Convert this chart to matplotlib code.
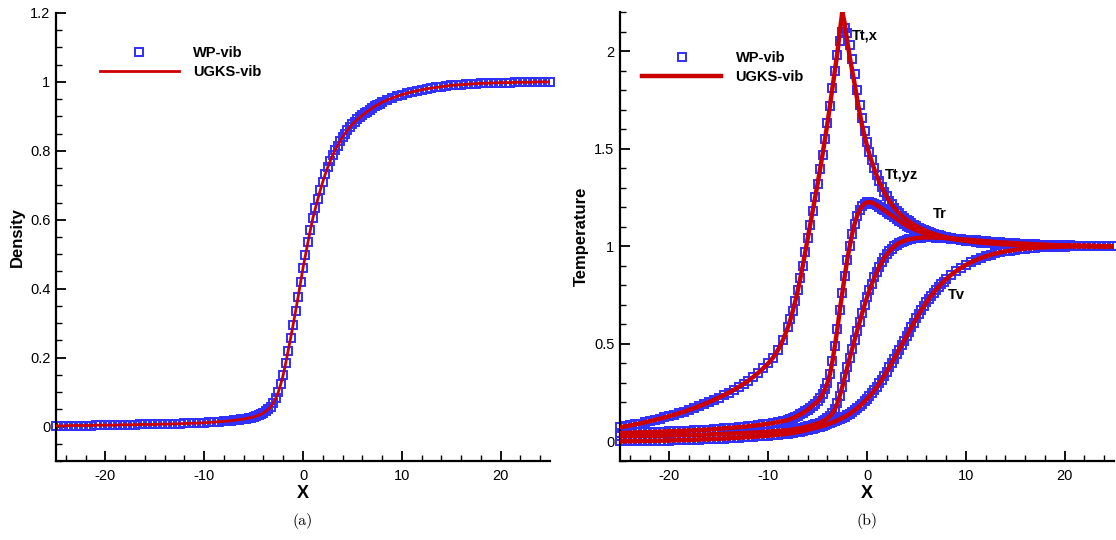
import numpy as np
import matplotlib
matplotlib.use('Agg')
import matplotlib.pyplot as plt
from matplotlib.ticker import MultipleLocator, FuncFormatter

plt.rcParams['font.family'] = ['Liberation Sans', 'DejaVu Sans']
plt.rcParams['axes.unicode_minus'] = False

# ---------------- mesh (x positions of the samples) ----------------
x_up = np.linspace(-25, -8.5, 34)    # step 0.5
x_mid = np.linspace(-8, 8, 65)       # step 0.25
x_dn = np.linspace(8.5, 25, 34)      # step 0.5

# ---------------- (a) density ----------------
rho_up = [0.002, 0.002, 0.002, 0.003, 0.003, 0.003, 0.003, 0.003,
          0.004, 0.004, 0.004, 0.004, 0.004, 0.005, 0.005, 0.005,
          0.005, 0.006, 0.006, 0.006, 0.006, 0.007, 0.007, 0.007,
          0.008, 0.008, 0.009, 0.009, 0.010, 0.010, 0.011, 0.012,
          0.013, 0.014]
rho_mid = [0.015, 0.016, 0.016, 0.017, 0.018, 0.019, 0.020, 0.021,   # -8 .. -6.25
           0.022, 0.023, 0.025, 0.026, 0.028, 0.030, 0.033, 0.036,   # -6 .. -4.25
           0.040, 0.045, 0.050, 0.058, 0.068, 0.082, 0.100, 0.123,   # -4 .. -2.25
           0.150, 0.184, 0.220, 0.257, 0.295, 0.335, 0.375, 0.418,   # -2 .. -0.25
           0.460, 0.498, 0.535, 0.571, 0.605, 0.633, 0.660, 0.686,   # 0 .. 1.75
           0.710, 0.732, 0.752, 0.770, 0.787, 0.802, 0.815, 0.828,   # 2 .. 3.75
           0.840, 0.850, 0.860, 0.869, 0.877, 0.884, 0.891, 0.897,   # 4 .. 5.75
           0.903, 0.909, 0.914, 0.919, 0.924, 0.929, 0.933, 0.937,   # 6 .. 7.75
           0.941]
rho_dn = [0.947, 0.953, 0.958, 0.963, 0.967, 0.971, 0.974, 0.977,
          0.980, 0.982, 0.984, 0.986, 0.988, 0.990, 0.991, 0.992,
          0.993, 0.994, 0.995, 0.996, 0.996, 0.997, 0.997, 0.998,
          0.998, 0.998, 0.999, 0.999, 0.999, 0.999, 1.000, 1.000,
          1.000, 1.000]

# ---------------- (b) temperatures ----------------
ttx_up = [0.072, 0.077, 0.082, 0.087, 0.092, 0.098, 0.104, 0.110,
          0.116, 0.123, 0.130, 0.137, 0.145, 0.153, 0.162, 0.171,
          0.181, 0.191, 0.202, 0.213, 0.225, 0.237, 0.250, 0.264,
          0.279, 0.295, 0.312, 0.331, 0.352, 0.375, 0.400, 0.430,
          0.470, 0.520]
ttx_mid_ugks = [0.585, 0.625, 0.670, 0.720, 0.775, 0.835, 0.900, 0.970,   # -8 .. -6.25
                1.040, 1.110, 1.180, 1.250, 1.320, 1.395, 1.470, 1.550,   # -6 .. -4.25
                1.630, 1.720, 1.810, 1.900, 1.990, 2.100, 2.200, 2.140,   # -4 .. -2.25
                2.050, 1.970, 1.900, 1.830, 1.755, 1.685, 1.620, 1.565,   # -2 .. -0.25
                1.515, 1.470, 1.430, 1.393, 1.360, 1.330, 1.302, 1.277,   # 0 .. 1.75
                1.254, 1.233, 1.214, 1.197, 1.182, 1.169, 1.157, 1.146,   # 2 .. 3.75
                1.136, 1.127, 1.118, 1.110, 1.103, 1.096, 1.090, 1.084,   # 4 .. 5.75
                1.078, 1.073, 1.068, 1.064, 1.060, 1.056, 1.052, 1.049,   # 6 .. 7.75
                1.046]
ttx_mid_wp = [0.585, 0.625, 0.670, 0.720, 0.775, 0.835, 0.900, 0.970,
              1.040, 1.110, 1.180, 1.250, 1.320, 1.395, 1.470, 1.550,
              1.630, 1.720, 1.810, 1.900, 1.980, 2.050, 2.100, 2.120,
              2.090, 2.030, 1.960, 1.880, 1.800, 1.725, 1.655, 1.590,
              1.535, 1.485, 1.440, 1.400, 1.365, 1.334, 1.306, 1.280,
              1.257, 1.233, 1.214, 1.197, 1.182, 1.169, 1.157, 1.146,
              1.136, 1.127, 1.118, 1.110, 1.103, 1.096, 1.090, 1.084,
              1.078, 1.073, 1.068, 1.064, 1.060, 1.056, 1.052, 1.049,
              1.046]
ttx_dn = [1.041, 1.036, 1.032, 1.028, 1.025, 1.022, 1.019, 1.017,
          1.015, 1.013, 1.011, 1.010, 1.009, 1.008, 1.007, 1.006,
          1.005, 1.005, 1.004, 1.004, 1.003, 1.003, 1.003, 1.002,
          1.002, 1.002, 1.001, 1.001, 1.001, 1.001, 1.000, 1.000,
          1.000, 1.000]

ttyz_up = [0.043, 0.044, 0.045, 0.046, 0.047, 0.047, 0.048, 0.049,
           0.050, 0.051, 0.052, 0.053, 0.054, 0.055, 0.056, 0.057,
           0.058, 0.060, 0.061, 0.063, 0.065, 0.067, 0.069, 0.071,
           0.073, 0.075, 0.078, 0.081, 0.084, 0.087, 0.090, 0.095,
           0.100, 0.105]
ttyz_mid = [0.110, 0.115, 0.120, 0.126, 0.132, 0.139, 0.146, 0.154,
            0.163, 0.173, 0.184, 0.194, 0.205, 0.222, 0.242, 0.268,
            0.300, 0.345, 0.410, 0.490, 0.575, 0.675, 0.760, 0.850,
            0.930, 1.000, 1.065, 1.115, 1.155, 1.185, 1.205, 1.218,
            1.225, 1.226, 1.223, 1.217, 1.210, 1.202, 1.193, 1.184,
            1.175, 1.166, 1.158, 1.149, 1.140, 1.131, 1.122, 1.114,
            1.106, 1.099, 1.093, 1.087, 1.082, 1.077, 1.073, 1.069,
            1.065, 1.061, 1.058, 1.055, 1.052, 1.049, 1.047, 1.045,
            1.043]
ttyz_dn = [1.039, 1.035, 1.032, 1.029, 1.026, 1.023, 1.020, 1.018,
           1.016, 1.015, 1.013, 1.012, 1.011, 1.010, 1.009, 1.008,
           1.007, 1.006, 1.006, 1.005, 1.004, 1.004, 1.003, 1.003,
           1.002, 1.002, 1.002, 1.001, 1.001, 1.001, 1.000, 1.000,
           1.000, 1.000]

tr_up = [0.026, 0.026, 0.027, 0.027, 0.028, 0.028, 0.029, 0.029,
         0.030, 0.030, 0.031, 0.031, 0.032, 0.032, 0.033, 0.034,
         0.034, 0.035, 0.036, 0.037, 0.038, 0.039, 0.040, 0.041,
         0.042, 0.043, 0.044, 0.046, 0.047, 0.049, 0.050, 0.052,
         0.054, 0.056]
tr_mid = [0.058, 0.060, 0.062, 0.064, 0.066, 0.068, 0.071, 0.074,
          0.077, 0.080, 0.084, 0.088, 0.092, 0.097, 0.103, 0.110,
          0.119, 0.130, 0.145, 0.165, 0.195, 0.235, 0.280, 0.330,
          0.380, 0.428, 0.475, 0.521, 0.567, 0.612, 0.656, 0.698,
          0.738, 0.775, 0.809, 0.840, 0.869, 0.895, 0.919, 0.940,
          0.958, 0.974, 0.988, 0.999, 1.009, 1.017, 1.023, 1.028,
          1.032, 1.035, 1.038, 1.040, 1.042, 1.043, 1.044, 1.045,
          1.045, 1.045, 1.045, 1.045, 1.044, 1.044, 1.043, 1.043,
          1.042]
tr_dn = [1.040, 1.038, 1.036, 1.034, 1.032, 1.030, 1.028, 1.026,
         1.024, 1.022, 1.020, 1.019, 1.017, 1.016, 1.014, 1.013,
         1.011, 1.010, 1.009, 1.008, 1.007, 1.006, 1.005, 1.004,
         1.004, 1.003, 1.003, 1.002, 1.002, 1.001, 1.001, 1.001,
         1.000, 1.000]

tv_up = [0.000, 0.001, 0.001, 0.002, 0.002, 0.003, 0.003, 0.004,
         0.004, 0.005, 0.005, 0.006, 0.007, 0.007, 0.008, 0.009,
         0.010, 0.011, 0.012, 0.013, 0.014, 0.015, 0.016, 0.018,
         0.019, 0.021, 0.022, 0.024, 0.026, 0.028, 0.030, 0.032,
         0.035, 0.037]
tv_mid = [0.040, 0.042, 0.044, 0.046, 0.049, 0.051, 0.054, 0.057,
          0.060, 0.063, 0.066, 0.069, 0.072, 0.076, 0.080, 0.084,
          0.088, 0.093, 0.098, 0.103, 0.108, 0.114, 0.120, 0.127,
          0.134, 0.142, 0.151, 0.160, 0.170, 0.181, 0.193, 0.205,
          0.218, 0.232, 0.247, 0.263, 0.280, 0.298, 0.317, 0.337,
          0.358, 0.380, 0.402, 0.425, 0.448, 0.471, 0.494, 0.517,
          0.540, 0.563, 0.586, 0.609, 0.631, 0.652, 0.673, 0.693,
          0.712, 0.730, 0.747, 0.763, 0.778, 0.792, 0.806, 0.819,
          0.831]
tv_dn = [0.853, 0.872, 0.889, 0.904, 0.917, 0.929, 0.939, 0.948,
         0.956, 0.963, 0.969, 0.974, 0.978, 0.982, 0.985, 0.988,
         0.990, 0.992, 0.994, 0.995, 0.996, 0.997, 0.998, 0.998,
         0.999, 0.999, 0.999, 1.000, 1.000, 1.000, 1.000, 1.000,
         1.000, 1.000]

curve_labels = ['Tt,x', 'Tt,yz', 'Tr', 'Tv']
label_pos = [(-1.55, 2.08), (1.82, 1.367), (6.67, 1.164), (8.2, 0.748)]
legend_labels = ['WP-vib', 'UGKS-vib']

x = np.concatenate([x_up, x_mid, x_dn])
def join(a, b, c):
    assert len(a) == 34 and len(b) == 65 and len(c) == 34, (len(a), len(b), len(c))
    return np.array(a + b + c)

rho = join(rho_up, rho_mid, rho_dn)
ttx_wp = join(ttx_up, ttx_mid_wp, ttx_dn)
ttx_ugks = join(ttx_up, ttx_mid_ugks, ttx_dn)
ttyz = join(ttyz_up, ttyz_mid, ttyz_dn)
tr = join(tr_up, tr_mid, tr_dn)
tv = join(tv_up, tv_mid, tv_dn)

BLUE = '#2f2fff'
RED = '#cc0000'

fig = plt.figure(figsize=(11.16, 5.4), dpi=100)
axL = fig.add_axes([56 / 1116, 79 / 540, 494 / 1116, 448 / 540])
axR = fig.add_axes([620 / 1116, 79 / 540, 494 / 1116, 449 / 540])

def fmt(v, p):
    if abs(v) < 1e-9:
        return '0'
    return '%g' % round(v, 6)

def style(ax, ylim, ymaj, ymin, ylabel):
    ax.set_xlim(-25, 25)
    ax.set_ylim(*ylim)
    for s in ['top', 'right']:
        ax.spines[s].set_visible(False)
    for s in ['left', 'bottom']:
        ax.spines[s].set_linewidth(1.6)
    ax.xaxis.set_major_locator(MultipleLocator(10))
    ax.xaxis.set_minor_locator(MultipleLocator(2))
    ax.yaxis.set_major_locator(MultipleLocator(ymaj))
    ax.yaxis.set_minor_locator(MultipleLocator(ymin))
    ax.xaxis.set_major_formatter(FuncFormatter(fmt))
    ax.yaxis.set_major_formatter(FuncFormatter(fmt))
    ax.tick_params(which='major', direction='in', length=7, width=1.3, labelsize=10.5)
    ax.tick_params(which='minor', direction='in', length=4, width=1.0)
    ax.tick_params(axis='x', which='major', pad=6)
    ax.tick_params(axis='y', which='major', pad=4)
    ax.set_xlabel('X', fontsize=13, fontweight='bold')
    ax.set_ylabel(ylabel, fontsize=12, fontweight='bold')
    ax.xaxis.set_label_coords(0.5, -0.072)
    ax.xaxis.label.set_va('center')
    ax.yaxis.set_label_coords(-0.079, 0.5)
    ax.yaxis.label.set_va('center')

mk = dict(marker='s', ls='none', ms=5.6, mfc='none', mec=BLUE, mew=1.4, clip_on=False)

# (a)
axL.plot(x, rho, label=legend_labels[0], zorder=2, **mk)
axL.plot(x, rho, color=RED, lw=2.0, label=legend_labels[1], zorder=3)
style(axL, (-0.1, 1.2), 0.2, 0.05, 'Density')
axL.legend(loc='upper left', bbox_to_anchor=(0.089, 0.926), frameon=False,
           prop={'weight': 'bold', 'size': 10.5}, handlelength=5.4, handletextpad=1.0,
           labelspacing=0.35, borderpad=0, borderaxespad=0, markerscale=1.05, numpoints=1)

# (b)
for i, t in enumerate([ttx_wp, ttyz, tr, tv]):
    axR.plot(x, t, label=legend_labels[0] if i == 0 else None, zorder=2, **mk)
for i, t in enumerate([ttx_ugks, ttyz, tr, tv]):
    axR.plot(x, t, color=RED, lw=3.2, label=legend_labels[1] if i == 0 else None, zorder=3)
style(axR, (-0.1, 2.2), 0.5, 0.1, 'Temperature')
axR.legend(loc='upper left', bbox_to_anchor=(0.045, 0.913), frameon=False,
           prop={'weight': 'bold', 'size': 10.5}, handlelength=5.4, handletextpad=1.0,
           labelspacing=0.35, borderpad=0, borderaxespad=0, markerscale=1.05, numpoints=1)
for lab, (lx, ly) in zip(curve_labels, label_pos):
    axR.text(lx, ly, lab, fontsize=10.5, fontweight='bold', ha='left', va='center', zorder=5)

fig.text(303 / 1116, 1 - 521 / 540, '(a)', ha='center', va='center', fontsize=11.5, family='cmr10')
fig.text(867 / 1116, 1 - 521 / 540, '(b)', ha='center', va='center', fontsize=11.5, family='cmr10')

fig.savefig('out.png', dpi=100)
